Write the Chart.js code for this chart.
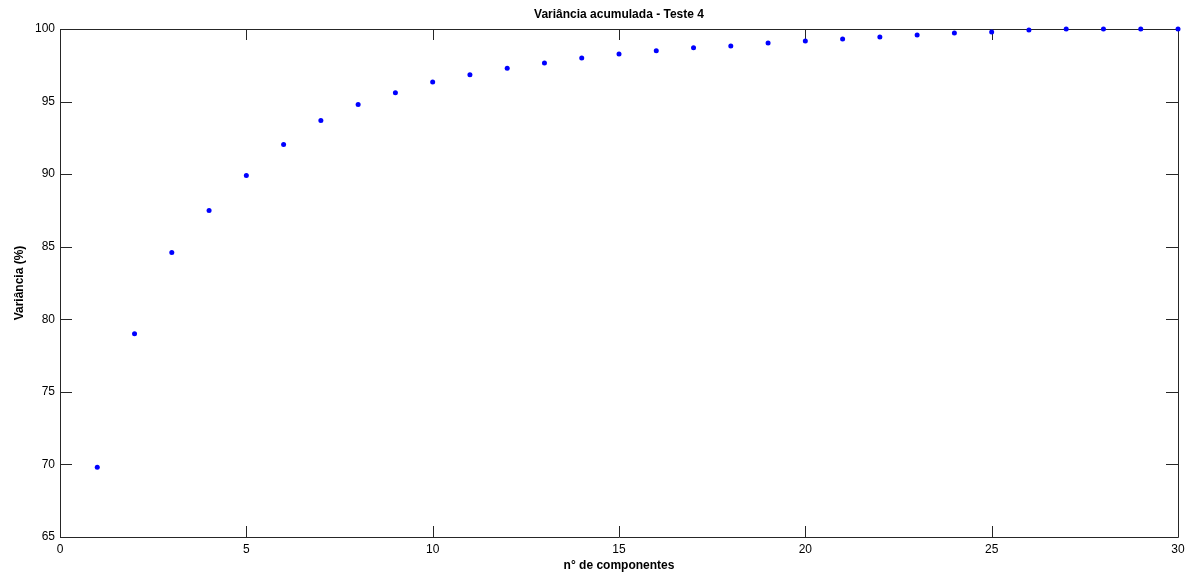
<!DOCTYPE html>
<html>
<head>
<meta charset="utf-8">
<script src="https://cdn.jsdelivr.net/npm/chart.js@4/dist/chart.umd.min.js"></script>
<style>
  body { margin: 0; background: #fff; }
  #wrap { width: 1190px; height: 574px; }
</style>
</head>
<body>
<div id="wrap"><canvas id="varChart" width="1190" height="574"></canvas></div>
<script>
// nº de componentes
const components = [1, 2, 3, 4, 5, 6, 7, 8, 9, 10, 11, 12, 13, 14, 15,
  16, 17, 18, 19, 20, 21, 22, 23, 24, 25, 26, 27, 28, 29, 30];
// variância acumulada (%)
const variance = [69.8, 79.0, 84.6, 87.5, 89.9, 92.05, 93.7, 94.8, 95.6, 96.35,
  96.85, 97.3, 97.65, 98.0, 98.28, 98.5, 98.7, 98.83, 99.03, 99.18,
  99.31, 99.45, 99.59, 99.72, 99.8, 99.93, 100, 100, 100, 100];

const chartTitle = "Variância acumulada - Teste 4";
const xTitle = "n° de componentes";
const yTitle = "Variância (%)";

const FONT = "'Liberation Sans', Arial, sans-serif";

// matlab style box with inward ticks on all four sides
const boxTicks = {
  id: "boxTicks",
  beforeDatasetsDraw(chart) {
    const { ctx, chartArea: a, scales } = chart;
    ctx.save();
    ctx.strokeStyle = "#262626";
    ctx.lineWidth = 1;
    ctx.beginPath();
    ctx.rect(a.left + 0.5, a.top + 0.5, a.right - a.left, a.bottom - a.top);
    ctx.stroke();
    ctx.beginPath();
    scales.x.ticks.forEach(t => {
      const px = Math.round(scales.x.getPixelForValue(t.value)) + 0.5;
      ctx.moveTo(px, a.bottom); ctx.lineTo(px, a.bottom - 11);
      ctx.moveTo(px, a.top); ctx.lineTo(px, a.top + 11);
    });
    scales.y.ticks.forEach(t => {
      const py = Math.round(scales.y.getPixelForValue(t.value)) + 0.5;
      ctx.moveTo(a.left, py); ctx.lineTo(a.left + 12, py);
      ctx.moveTo(a.right, py); ctx.lineTo(a.right - 12, py);
    });
    ctx.stroke();
    ctx.restore();
  }
};

const ctx = document.getElementById("varChart").getContext("2d");
new Chart(ctx, {
  type: "scatter",
  data: {
    datasets: [{
      label: yTitle,
      data: components.map((c, i) => ({ x: c, y: variance[i] })),
      pointStyle: "circle",
      pointRadius: 2.5,
      pointBorderWidth: 0,
      backgroundColor: "#0000ff",
      borderColor: "#0000ff",
      clip: false
    }]
  },
  options: {
    responsive: false,
    animation: false,
    layout: { padding: { left: 0, right: 12, top: 0, bottom: 0 } },
    plugins: {
      legend: { display: false },
      tooltip: { enabled: false },
      title: {
        display: true,
        text: chartTitle,
        fullSize: false,
        color: "#000",
        font: { family: FONT, size: 12, weight: "bold" },
        padding: { top: 7, bottom: 7.6 }
      }
    },
    scales: {
      x: {
        type: "linear",
        min: 0,
        max: 30,
        afterFit: s => { s.height = 37; },
        grid: { display: false, drawTicks: false },
        border: { display: false },
        ticks: {
          stepSize: 5,
          padding: 5,
          color: "#000",
          maxRotation: 0,
          font: { family: FONT, size: 12 }
        },
        title: {
          display: true,
          text: xTitle,
          color: "#000",
          font: { family: FONT, size: 12, weight: "bold" },
          padding: { top: 0, bottom: 1 }
        }
      },
      y: {
        min: 65,
        max: 100,
        afterFit: s => { s.width = 60; },
        grid: { display: false, drawTicks: false },
        border: { display: false },
        ticks: {
          stepSize: 5,
          padding: 5,
          color: "#000",
          font: { family: FONT, size: 12 }
        },
        title: {
          display: true,
          text: yTitle,
          color: "#000",
          font: { family: FONT, size: 12, weight: "bold" },
          padding: { top: 12, bottom: 0 }
        }
      }
    }
  },
  plugins: [boxTicks]
});
</script>
</body>
</html>
